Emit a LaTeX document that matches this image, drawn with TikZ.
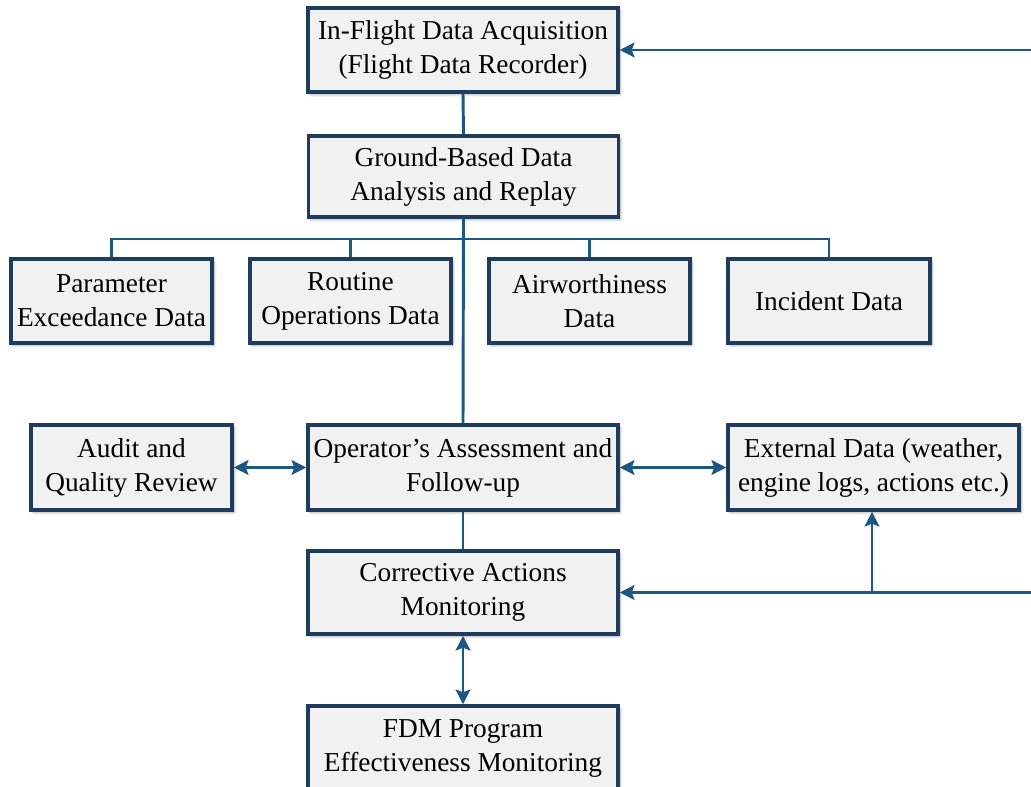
\documentclass[tikz,border=0pt]{standalone}
\usepackage{fontspec}
\setmainfont{Liberation Serif}
\usetikzlibrary{arrows.meta,shadows.blur}

\definecolor{boxedge}{HTML}{1F3B5E}
\definecolor{boxfill}{HTML}{F1F1F1}
\definecolor{link}{HTML}{1D5784}

\tikzset{
  box/.style={draw=boxedge, line width=2.6pt, fill=boxfill, align=center,
    inner sep=2pt, font=\fontsize{20.5}{25.5}\selectfont,
    blur shadow={shadow xshift=1.6pt, shadow yshift=-1.8pt, shadow blur radius=2pt, shadow opacity=35}},
  wide/.style={box, minimum width=232.5pt, minimum height=63pt},
  narrow/.style={box, minimum width=150.75pt, minimum height=63pt},
  conn/.style={draw=link, line width=2.2pt},
  tip/.style={-{Stealth[length=11pt, width=11pt, inset=2pt]}},
  tips/.style={{Stealth[length=11pt, width=11pt, inset=2pt]}-{Stealth[length=11pt, width=11pt, inset=2pt]}},
}

\begin{document}
\begin{tikzpicture}[x=0.75pt, y=-0.75pt]
\useasboundingbox (0,0) rectangle (1031,787);
\clip (0,0) rectangle (1031,787);

% upper chain
\node[wide] (top) at (463,50) {In-Flight Data Acquisition\\(Flight Data Recorder)};
\node[wide, minimum height=60.75pt] (ground) at (463.5,176.5) {Ground-Based Data\\Analysis and Replay};

% data categories
\node[narrow] (param) at (111.5,301) {Parameter\\Exceedance Data};
\node[narrow] (routine) at (350.5,301) {Routine\\Operations Data};
\node[narrow] (air) at (589.5,301) {Airworthiness\\Data};
\node[narrow, minimum width=151.5pt] (incident) at (829,301) {Incident Data};

% assessment row
\node[narrow, minimum height=63.75pt] (audit) at (131.5,467.5) {Audit and\\Quality Review};
\node[wide, minimum height=63.75pt] (oper) at (463,467.5) {Operator’s Assessment and\\Follow-up};
\node[box, minimum width=218.25pt, minimum height=63.75pt] (ext) at (873.5,467.5) {External Data (weather,\\engine logs, actions etc.)};

% lower chain
\node[wide, minimum height=62.25pt] (corr) at (463,592.5) {Corrective Actions\\Monitoring};
\node[wide] (fdm) at (463,748) {FDM Program\\Effectiveness Monitoring};

% connectors
\coordinate (bar) at (463,239);
\coordinate (inR) at (1040,50);
\coordinate (loopR) at (1040,592.5);
\coordinate (branch) at (872,592.5);

\draw[conn] (top.south) -- (ground.north);
\draw[conn] (param.north) |- (bar) -| (incident.north);
\draw[conn] (routine.north) -- (routine.north |- bar);
\draw[conn] (air.north) -- (air.north |- bar);
\draw[conn] (ground.south) -- (oper.north);
\draw[conn, tips] (audit.east) -- (oper.west);
\draw[conn, tips] (oper.east) -- (ext.west);
\draw[conn] (oper.south) -- (corr.north);
\draw[conn, tips] (corr.south) -- (fdm.north);
\draw[conn, tip] (inR) -- (top.east);
\draw[conn, tip] (loopR) -- (corr.east);
\draw[conn, tip] (branch) -- (branch |- ext.south);
\end{tikzpicture}
\end{document}
